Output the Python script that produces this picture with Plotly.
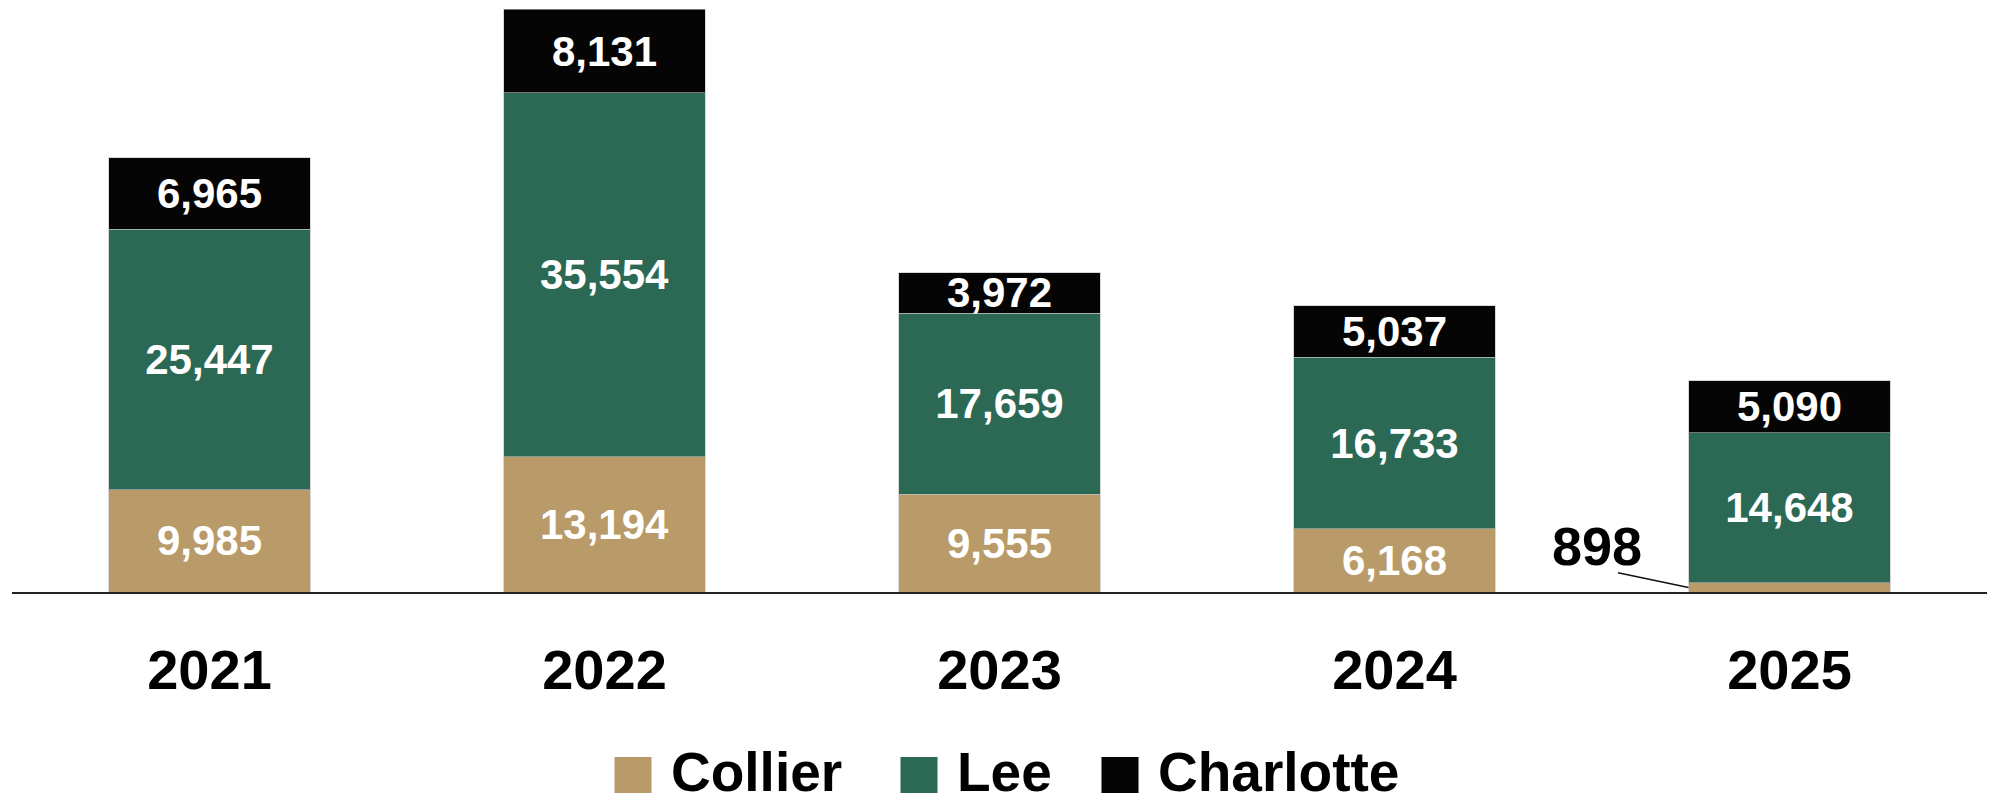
"""
Stacked bars by county, 2021-2025
"""
import plotly.graph_objects as go

# Datos
years = ["2021", "2022", "2023", "2024", "2025"]
collier = [9985, 13194, 9555, 6168, 898]
lee = [25447, 35554, 17659, 16733, 14648]
charlotte = [6965, 8131, 3972, 5037, 5090]

series_names = ["Collier", "Lee", "Charlotte"]
colors = {"Collier": "#B89B68", "Lee": "#2B6955", "Charlotte": "#050505"}

FONT = "Liberation Sans, Arial, sans-serif"


def labels(values):
    # values too small for an inside label get an outside callout instead
    return [f"{v:,}" if v > 2000 else "" for v in values]


fig = go.Figure()
for name, values in zip(series_names, [collier, lee, charlotte]):
    fig.add_trace(go.Bar(
        x=years,
        y=values,
        name=name,
        text=labels(values),
        textposition="inside",
        insidetextanchor="middle",
        textangle=0,
        constraintext="none",
        cliponaxis=False,
        textfont=dict(family=FONT, size=42, color="white", weight="bold"),
        marker=dict(color=colors[name], line=dict(color="rgba(190,190,190,0.6)", width=1)),
        showlegend=False,
    ))

# Callout for the small 2025 Collier value (x as category index)
last = len(years) - 1
fig.add_annotation(
    x=last, y=collier[-1] / 2, xref="x", yref="y",
    xshift=-193, yshift=41,
    text=f"{collier[-1]:,}", showarrow=False,
    font=dict(family=FONT, size=54, color="black", weight="bold"),
)
# leader line
fig.add_annotation(
    x=last, y=collier[-1] / 2, xref="x", yref="y",
    xshift=-101, text="",
    showarrow=True, arrowhead=0, arrowwidth=1.5, arrowcolor="#111",
    ax=-72, ay=-15, standoff=0,
)

# Leyenda manual (cuadrados grandes)
plot_w, plot_h, left = 1975.0, 592.0, 12.5
legend_items = [("Collier", 615), ("Lee", 901), ("Charlotte", 1102)]
for name, px_x in legend_items:
    x0 = (px_x - left) / plot_w
    x1 = (px_x + 37 - left) / plot_w
    fig.add_shape(
        type="rect", xref="paper", yref="paper",
        x0=x0, x1=x1, y0=(592 - 757) / plot_h, y1=(592 - 793) / plot_h,
        fillcolor=colors[name], line=dict(width=0),
    )
    fig.add_annotation(
        x=(px_x + 54 - left) / plot_w, y=(592 - 772) / plot_h,
        xref="paper", yref="paper", xanchor="left", yanchor="middle",
        text=name, showarrow=False,
        font=dict(family=FONT, size=55, color="black", weight="bold"),
    )

fig.update_layout(
    barmode="stack",
    bargap=0.489,
    width=1996,
    height=796,
    margin=dict(l=12, r=9, t=0, b=204, autoexpand=False),
    plot_bgcolor="white",
    paper_bgcolor="white",
    xaxis=dict(
        type="category",
        range=[-0.5, len(years) - 0.5],
        showline=True, linecolor="#222", linewidth=2,
        ticks="outside", ticklen=28, tickcolor="rgba(0,0,0,0)",
        tickfont=dict(family=FONT, size=56, color="black", weight="bold"),
        showgrid=False,
    ),
    yaxis=dict(range=[0, 57800], visible=False, showgrid=False),
)

# quitar el margen por defecto del <body>
fig.write_html(
    "out.html",
    config={"displayModeBar": False},
    post_script="document.body.style.margin='0';",
)
